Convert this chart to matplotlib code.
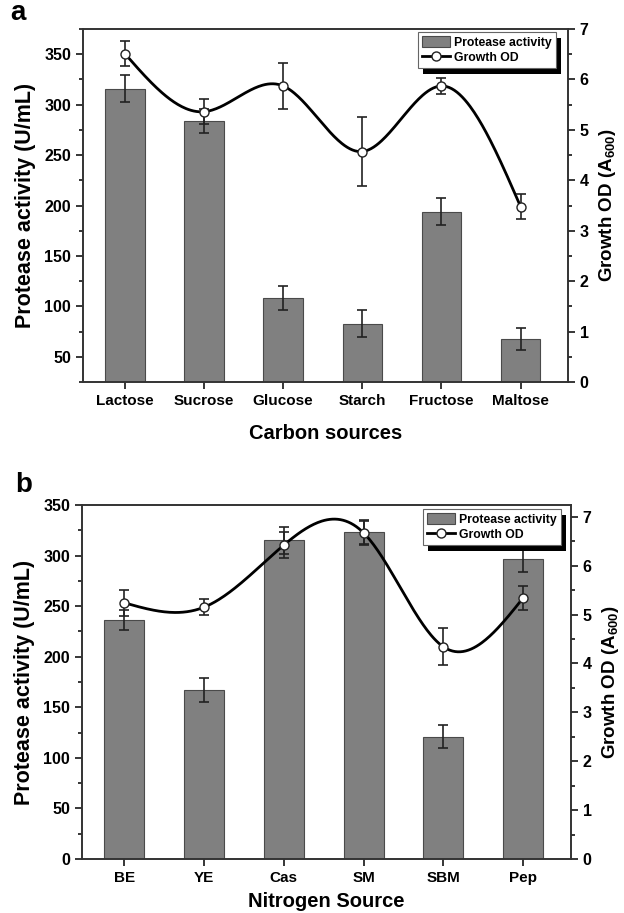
import numpy as np
import matplotlib
matplotlib.use('Agg')
import matplotlib.pyplot as plt
from matplotlib.ticker import MultipleLocator
from matplotlib.patches import Rectangle
from matplotlib.transforms import IdentityTransform

plt.rcParams['font.family'] = ['Liberation Sans', 'DejaVu Sans']
plt.rcParams['font.weight'] = 'bold'
plt.rcParams['mathtext.fontset'] = 'custom'
plt.rcParams['mathtext.rm'] = 'Liberation Sans:bold'
plt.rcParams['mathtext.it'] = 'Liberation Sans:bold'
plt.rcParams['mathtext.bf'] = 'Liberation Sans:bold'

# Panel a: carbon sources
carbon = ['Lactose', 'Sucrose', 'Glucose', 'Starch', 'Fructose', 'Maltose']
carbon_activity = [316, 284, 108, 83, 194, 68]
carbon_activity_err = [13, 12, 12, 13, 13, 11]
carbon_od = [6.51, 5.36, 5.87, 4.57, 5.87, 3.48]
carbon_od_err = [0.25, 0.25, 0.45, 0.68, 0.16, 0.25]

# Panel b: nitrogen sources
nitrogen = ['BE', 'YE', 'Cas', 'SM', 'SBM', 'Pep']
nitrogen_activity = [236, 167, 315, 323, 121, 297]
nitrogen_activity_err = [10, 12, 13, 12, 11, 13]
nitrogen_od = [5.24, 5.15, 6.42, 6.67, 4.34, 5.34]
nitrogen_od_err = [0.26, 0.16, 0.27, 0.25, 0.38, 0.25]

BAR_COLOR = '#808080'
TICK_FONT = 11.5


def natural_spline(x, y, xs):
    """Natural cubic spline through (x, y), evaluated at xs."""
    x = np.asarray(x, float)
    y = np.asarray(y, float)
    n = len(x)
    h = np.diff(x)
    A = np.zeros((n, n))
    b = np.zeros(n)
    A[0, 0] = A[-1, -1] = 1
    for i in range(1, n - 1):
        A[i, i - 1] = h[i - 1]
        A[i, i] = 2 * (h[i - 1] + h[i])
        A[i, i + 1] = h[i]
        b[i] = 3 * ((y[i + 1] - y[i]) / h[i] - (y[i] - y[i - 1]) / h[i - 1])
    c = np.linalg.solve(A, b)
    out = np.empty_like(xs)
    for k, xv in enumerate(xs):
        i = min(max(np.searchsorted(x, xv) - 1, 0), n - 2)
        bb = (y[i + 1] - y[i]) / h[i] - h[i] * (2 * c[i] + c[i + 1]) / 3
        d = (c[i + 1] - c[i]) / (3 * h[i])
        t = xv - x[i]
        out[k] = y[i] + bb * t + c[i] * t ** 2 + d * t ** 3
    return out


def draw_panel(fig, rect, cats, act, act_err, od, od_err, ylim, y2lim,
               xlabel, xlabelpad, legend_anchor, letter, letter_xy):
    ax = fig.add_axes(rect)
    x = np.arange(1, len(cats) + 1)
    ax.bar(x, act, width=0.5, color=BAR_COLOR, edgecolor='#4a4a4a',
           linewidth=0.8, label='Protease activity', zorder=2)
    ax.errorbar(x, act, yerr=act_err, fmt='none', ecolor='#222222',
                elinewidth=1.2, capsize=3.5, capthick=1.2, zorder=3)
    ax.set_xlim(0.47, 6.6)
    ax.set_ylim(*ylim)
    ax.set_xticks(x)
    ax.set_xticklabels(cats, fontsize=11)
    ax.yaxis.set_major_locator(MultipleLocator(50))
    ax.yaxis.set_minor_locator(MultipleLocator(25))
    ax.tick_params(axis='both', which='both', direction='out',
                   width=1.1, top=False, right=False)
    ax.tick_params(axis='y', labelsize=TICK_FONT)
    ax.tick_params(which='major', length=5)
    ax.tick_params(which='minor', length=3)
    ax.set_ylabel('Protease activity (U/mL)', fontsize=15.5, fontweight='bold',
                  labelpad=6)
    ax.set_xlabel(xlabel, fontsize=14.5, fontweight='bold', labelpad=xlabelpad)

    ax2 = ax.twinx()
    xs = np.linspace(1, len(cats), 300)
    ax2.plot(xs, natural_spline(x, od, xs), color='black', lw=2, zorder=3)
    ax2.errorbar(x, od, yerr=od_err, fmt='none', ecolor='#222222',
                 elinewidth=1.2, capsize=3.5, capthick=1.2, zorder=4)
    ax2.plot(x, od, 'o', ms=6.5, mfc='white', mec='#222222', mew=1,
             zorder=5)
    ax2.set_ylim(*y2lim)
    ax2.yaxis.set_major_locator(MultipleLocator(1))
    ax2.yaxis.set_minor_locator(MultipleLocator(0.5))
    ax2.tick_params(axis='y', which='both', direction='out',
                    labelsize=TICK_FONT, width=1.1)
    ax2.tick_params(which='major', length=5)
    ax2.tick_params(which='minor', length=3)
    ax2.set_ylabel('Growth OD (A$_{600}$)', fontsize=13.5, fontweight='bold',
                   labelpad=6)

    for a in (ax, ax2):
        for sp in a.spines.values():
            sp.set_linewidth(1.2)
            sp.set_color('#333333')

    # legend with both handles
    h_bar = ax.get_legend_handles_labels()[0][0]
    h_line, = ax2.plot([], [], '-o', color='black', lw=2, ms=6.5,
                       mfc='white', mec='#222222')
    leg = ax2.legend([h_bar, h_line], ['Protease activity', 'Growth OD'],
                     loc='upper right', bbox_to_anchor=legend_anchor,
                     borderaxespad=0, fancybox=False, framealpha=1,
                     edgecolor='#666666', fontsize=8.8, handlelength=2.3,
                     handleheight=1.0, borderpad=0.35, labelspacing=0.2,
                     handletextpad=0.3)
    leg.get_frame().set_linewidth(0.8)
    leg.set_zorder(10)

    fig.text(letter_xy[0], letter_xy[1], letter, fontsize=20,
             fontweight='bold', ha='left', va='center')
    return ax, ax2, leg


fig = plt.figure(figsize=(6.24, 9.13), dpi=100)

W, H = 624.0, 913.0
panels = []
panels.append(draw_panel(
    fig, [83 / W, 1 - 382 / H, (568 - 83) / W, (382 - 29) / H],
    carbon, carbon_activity, carbon_activity_err, carbon_od, carbon_od_err,
    (25, 375), (0, 7), 'Carbon sources', 12,
    (1 - 12 / 485, 1 - 3 / 353), 'a', (10 / W, 1 - 13 / H)))
panels.append(draw_panel(
    fig, [82 / W, 1 - 859 / H, (571 - 82) / W, (859 - 505) / H],
    nitrogen, nitrogen_activity, nitrogen_activity_err, nitrogen_od,
    nitrogen_od_err, (0, 350), (0, 7.24), 'Nitrogen Source', 5,
    (1 - 10 / 489, 1 - 4 / 354), 'b', (15 / W, 1 - 485 / H)))

# solid black drop shadow behind the legends
fig.canvas.draw()
for ax, ax2, leg in panels:
    bb = leg.get_window_extent()
    shadow = Rectangle((bb.x0 + 5, bb.y0 - 6), bb.width, bb.height,
                       transform=IdentityTransform(), facecolor='black',
                       edgecolor='none', zorder=9.5, clip_on=False)
    ax2.add_artist(shadow)

fig.savefig('out.png', dpi=100)
